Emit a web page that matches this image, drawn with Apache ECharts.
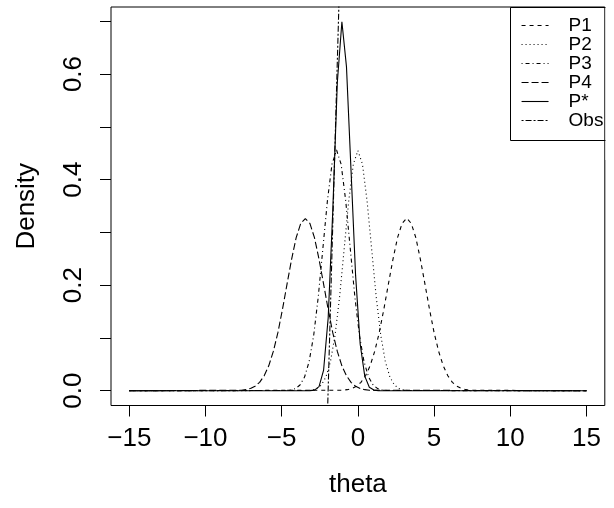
<!DOCTYPE html>
<html>
<head>
<meta charset="utf-8">
<script src="https://cdn.jsdelivr.net/npm/echarts@6/dist/echarts.min.js"></script>
<style>html,body{margin:0;padding:0;background:#fff;}#c{width:614px;height:508px;}</style>
</head>
<body>
<div id="c"></div>
<script>
// ---- data ----
const xTicks = [-15, -10, -5, 0, 5, 10, 15];
const yTicks = [0, 0.1, 0.2, 0.3, 0.4, 0.5, 0.6, 0.7];
const yLabels = [0, 0.2, 0.4, 0.6];

const p1X = [-15, -1.0, -0.7, -0.4, -0.1, 0.2, 0.5, 0.8, 1.1, 1.4, 1.7, 2.0, 2.3, 2.6, 2.9, 3.2, 3.5, 3.8, 4.1, 4.4, 4.7, 5.0, 5.3, 5.6, 5.9, 6.2, 6.5, 6.8, 7.1, 7.4, 15];
const p1Y = [0, 0.0009, 0.0020, 0.0042, 0.0084, 0.0159, 0.0283, 0.0472, 0.0744, 0.110, 0.154, 0.202, 0.249, 0.290, 0.317, 0.327, 0.317, 0.290, 0.249, 0.202, 0.154, 0.110, 0.0744, 0.0472, 0.0283, 0.0159, 0.0084, 0.0042, 0.0020, 0.0009, 0];

const p2X = [-15, -3.3, -3.0, -2.7, -2.4, -2.1, -1.8, -1.5, -1.2, -0.9, -0.6, -0.3, 0, 0.3, 0.6, 0.9, 1.2, 1.5, 1.8, 2.1, 2.4, 2.7, 3.0, 3.3, 15];
const p2Y = [0, 0.0004, 0.0013, 0.0040, 0.0108, 0.0259, 0.0553, 0.105, 0.178, 0.269, 0.360, 0.429, 0.455, 0.429, 0.360, 0.269, 0.178, 0.105, 0.0553, 0.0259, 0.0108, 0.0040, 0.0013, 0.0004, 0];

const p3X = [-15, -4.7, -4.4, -4.1, -3.8, -3.5, -3.2, -2.9, -2.6, -2.3, -2.0, -1.7, -1.4, -1.1, -0.8, -0.5, -0.2, 0.1, 0.4, 0.7, 1.0, 1.3, 1.6, 1.9, 15];
const p3Y = [0, 0.0004, 0.0013, 0.0040, 0.0108, 0.0259, 0.0553, 0.105, 0.178, 0.269, 0.360, 0.429, 0.456, 0.429, 0.360, 0.269, 0.178, 0.105, 0.0553, 0.0259, 0.0108, 0.0040, 0.0013, 0.0004, 0];

const p4X = [-15, -7.65, -7.35, -7.05, -6.75, -6.45, -6.15, -5.85, -5.55, -5.25, -4.95, -4.65, -4.35, -4.05, -3.75, -3.45, -3.15, -2.85, -2.55, -2.25, -1.95, -1.65, -1.35, -1.05, -0.75, -0.45, -0.15, 0.15, 0.45, 0.75, 15];
const p4Y = [0, 0.0009, 0.0020, 0.0042, 0.0084, 0.0159, 0.0283, 0.0472, 0.0744, 0.110, 0.154, 0.202, 0.249, 0.290, 0.317, 0.326, 0.317, 0.290, 0.249, 0.202, 0.154, 0.110, 0.0744, 0.0472, 0.0283, 0.0159, 0.0084, 0.0042, 0.0020, 0.0009, 0];

const pStarX = [-15, -3.15, -2.85, -2.55, -2.25, -1.95, -1.65, -1.35, -1.05, -0.75, -0.45, -0.15, 0.15, 0.45, 0.75, 1.05, 1.35, 15];
const pStarY = [0, 0.0001, 0.0011, 0.0078, 0.0392, 0.138, 0.340, 0.584, 0.699, 0.614, 0.417, 0.218, 0.0883, 0.0276, 0.0066, 0.0012, 0.0002, 0];

const obsX = [-2.05, -1.18];
const obsY = [-0.1, 0.8];

const names = ['P1', 'P2', 'P3', 'P4', 'P*', 'Obs'];
const dashes = [[4, 4], [1, 3], [1, 3, 4, 3], [7, 3], 'solid', [2, 2, 6, 2]];
const xsAll = [p1X, p2X, p3X, p4X, pStarX, obsX];
const ysAll = [p1Y, p2Y, p3Y, p4Y, pStarY, obsY];

const FONT = 'Liberation Sans, Arial, Helvetica, sans-serif';
const chart = echarts.init(document.getElementById('c'), null, {renderer: 'canvas'});

const series = names.map((n, k) => ({
  name: n,
  type: 'line',
  data: xsAll[k].map((x, i) => [x, ysAll[k][i]]),
  symbol: 'none',
  showSymbol: false,
  clip: true,
  silent: true,
  lineStyle: {color: '#000', width: 1.1, type: dashes[k]},
  itemStyle: {color: '#000'}
}));

chart.setOption({
  animation: false,
  backgroundColor: '#fff',
  grid: {left: 111, right: 9.2, top: 7, bottom: 102.5, show: true, borderColor: '#000', borderWidth: 1, backgroundColor: 'transparent'},
  xAxis: {
    type: 'value', min: -16.2, max: 16.2,
    axisLine: {show: false, onZero: false},
    splitLine: {show: false},
    axisTick: {show: true, customValues: xTicks, length: 11, lineStyle: {color: '#000', width: 1}},
    axisLabel: {customValues: xTicks, fontSize: 26, color: '#000', fontFamily: FONT, margin: 20,
      formatter: v => String(v).replace('-', '\u2212')},
    name: 'theta', nameLocation: 'middle', nameGap: 66,
    nameTextStyle: {fontSize: 26, color: '#000', fontFamily: FONT}
  },
  yAxis: {
    type: 'value', min: -0.028, max: 0.727,
    axisLine: {show: false, onZero: false},
    splitLine: {show: false},
    axisTick: {show: true, customValues: yTicks, length: 11, lineStyle: {color: '#000', width: 1}},
    axisLabel: {customValues: yLabels, fontSize: 26, color: '#000', fontFamily: FONT, margin: 24, rotate: 90,
      formatter: v => v.toFixed(1)},
    name: 'Density', nameLocation: 'middle', nameGap: 71,
    nameTextStyle: {fontSize: 26, color: '#000', fontFamily: FONT}
  },
  legend: {
    data: names,
    orient: 'vertical',
    left: 516, top: 11,
    itemWidth: 27, itemHeight: 10, itemGap: 0,
    selectedMode: false,
    textStyle: {fontSize: 19, lineHeight: 18, color: '#000', fontFamily: FONT, padding: [0, 0, 0, 15]},
    itemStyle: {color: 'rgba(0,0,0,0)', borderWidth: 0, opacity: 0},
    lineStyle: {width: 1.1}
  },
  graphic: [
    {type: 'rect', z: 50, silent: true, shape: {x: 510.5, y: 7.5, width: 200, height: 133}, style: {fill: 'none', stroke: '#000', lineWidth: 1}},
    {type: 'rect', z: 200, silent: true, shape: {x: 605.5, y: 0, width: 20, height: 160}, style: {fill: '#fff', stroke: 'none'}}
  ],
  series: series
});
</script>
</body>
</html>
